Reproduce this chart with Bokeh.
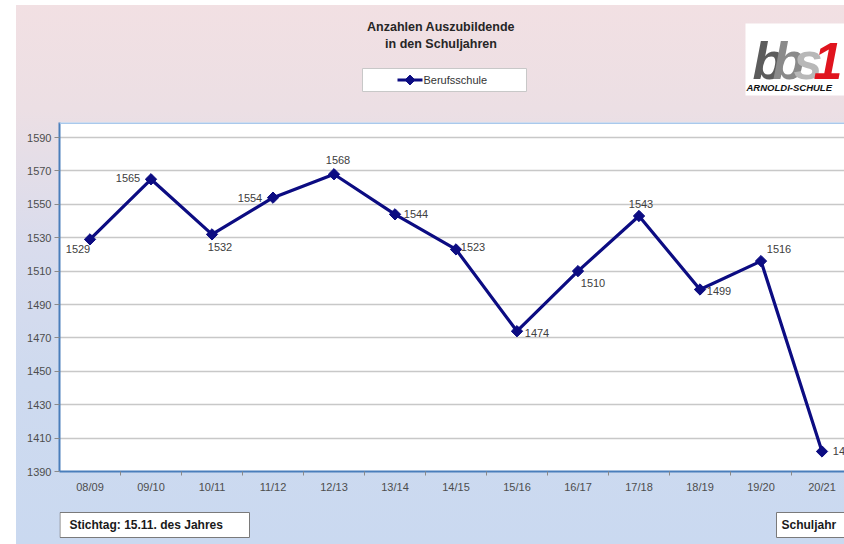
import math
from bokeh.plotting import figure
from bokeh.layouts import column
from bokeh.models import Range1d, FixedTicker, ColumnDataSource, Span
from bokeh.embed import file_html
from bokeh.resources import INLINE
from bokeh.core.properties import value

# ---- data ----
years = ["08/09", "09/10", "10/11", "11/12", "12/13", "13/14", "14/15",
         "15/16", "16/17", "17/18", "18/19", "19/20", "20/21"]
students = [1529, 1565, 1532, 1554, 1568, 1544, 1523, 1474, 1510, 1543, 1499, 1516, 1402]
y_ticks = [1390, 1410, 1430, 1450, 1470, 1490, 1510, 1530, 1550, 1570, 1590]
series_name = "Berufsschule"
title_lines = ["Anzahlen Auszubildende", "in den Schuljahren"]
note_left = "Stichtag: 15.11. des Jahres"
note_right = "Schuljahr"
logo_letters = ["b", "b", "s", "1"]
logo_sub = "ARNOLDI-SCHULE"

# ---- label placement (pixel offsets, style only) ----
lab_dx = [-12, -23, 8, -23, 4, 21, 17, 20, 15, 2, 19, 18, 23]
lab_dy = [10, -1, 13, 0, -14, 0, -2, 2, 12, -12, 2, -12, 0]

FONT = "Liberation Sans"
W = 844
LEFT = 59
H_HEAD, H_MAIN, H_FOOT = 114, 387, 43
NAVY = "#0c0c82"


def deco_figure(h, y_top):
    f = figure(width=W, height=h, output_backend="svg", toolbar_location=None,
               x_range=Range1d(LEFT, W), y_range=Range1d(y_top + h, y_top),
               x_axis_location=None, y_axis_location=None,
               min_border_left=LEFT, min_border_right=0, min_border_top=0, min_border_bottom=0)
    f.border_fill_color = None
    f.background_fill_color = None
    f.outline_line_color = None
    f.grid.visible = False
    return f


# ---------------- header ----------------
hdr = deco_figure(H_HEAD, 0)
hdr.text(x=[440.5, 440.5], y=[26, 43], text=title_lines, text_align="center", text_baseline="middle",
         text_font=value(FONT), text_font_size="12.5px", text_font_style="bold", text_color="#262626")
# legend box
hdr.quad(left=[362], right=[526], top=[68], bottom=[91], fill_color="white", line_color="#c8c8c8", line_width=1)
hdr.line(x=[397, 422], y=[79.5, 79.5], line_color=NAVY, line_width=3)
hdr.scatter(x=[409.5], y=[79.5], marker="square", angle=math.pi / 4, size=7, fill_color=NAVY, line_color=NAVY)
hdr.text(x=[423], y=[79.5], text=[series_name], text_align="left", text_baseline="middle",
         text_font=value(FONT), text_font_size="11px", text_color="#333333")
# logo
hdr.quad(left=[745], right=[W + 10], top=[23], bottom=[95], fill_color="white", line_color=None)
hdr.text(x=[752, 772, 793, 813], y=[60, 60, 60, 60], text=logo_letters,
         text_color=["#5c5c5c", "#8a8a8a", "#b8b8b8", "#e0141e"],
         text_font=value(FONT), text_font_size="52px", text_font_style="bold italic",
         text_align="left", text_baseline="alphabetic")
hdr.text(x=[746], y=[87], text=[logo_sub], text_font=value(FONT), text_font_size="9.5px",
         text_font_style="bold italic", text_color="#111111", text_align="left", text_baseline="middle")

# ---------------- main chart ----------------
xs = list(range(len(years)))
src = ColumnDataSource(dict(x=xs, y=students, txt=[str(v) for v in students], dx=lab_dx, dy=lab_dy))

p = figure(width=W, height=H_MAIN, output_backend="svg", toolbar_location=None,
           x_range=Range1d(-0.5, -0.5 + (W - LEFT) / 61.0), y_range=Range1d(1390, 1599),
           min_border_left=LEFT, min_border_right=0, min_border_top=8, min_border_bottom=30)
p.border_fill_color = None
p.background_fill_color = "white"
p.outline_line_color = None
p.add_layout(Span(location=1599, dimension="width", line_color="#a9c9ec", line_width=3))

p.xaxis.ticker = FixedTicker(ticks=xs, minor_ticks=[i + 0.5 for i in xs[:-1]])
p.xaxis.major_label_overrides = {i: y for i, y in enumerate(years)}
p.xaxis.major_tick_out = 0
p.xaxis.major_tick_in = 0
p.xaxis.minor_tick_out = 4
p.xaxis.minor_tick_in = 0
p.xaxis.minor_tick_line_color = "#8a8a8a"
p.xaxis.major_label_standoff = 5
p.yaxis.ticker = FixedTicker(ticks=y_ticks)
p.yaxis.major_tick_out = 5
p.yaxis.major_tick_in = 0
p.yaxis.minor_tick_line_color = None
p.yaxis.major_tick_line_color = "#8a8a8a"
p.yaxis.major_label_standoff = 3
for ax in (p.xaxis, p.yaxis):
    ax.axis_line_color = "#4a7ebb"
    ax.axis_line_width = 2
    ax.major_label_text_font = FONT
    ax.major_label_text_font_size = "11px"
    ax.major_label_text_color = "#4d4d4d"
p.xgrid.grid_line_color = None
p.ygrid.ticker = FixedTicker(ticks=y_ticks)
p.ygrid.grid_line_color = "#c8c8c8"
p.ygrid.grid_line_width = 1.5

p.line("x", "y", source=src, line_color=NAVY, line_width=3.2)
p.scatter("x", "y", source=src, marker="square", angle=math.pi / 4, size=8,
          fill_color=NAVY, line_color=NAVY)
p.text("x", "y", text="txt", source=src, x_offset="dx", y_offset="dy",
       text_align="center", text_baseline="middle", text_font=value(FONT),
       text_font_size="11px", text_color="#404040")

# ---------------- footer ----------------
ftr = deco_figure(H_FOOT, H_HEAD + H_MAIN)
ftr.quad(left=[59.5, 776], right=[249, W + 10], top=[512, 512], bottom=[537, 537],
         fill_color="white", line_color="#7a7a7a", line_width=1)
ftr.text(x=[69, 781], y=[524.5, 524.5], text=[note_left, note_right], text_align="left",
         text_baseline="middle", text_font=value(FONT), text_font_size="12px",
         text_font_style="bold", text_color="#1a1a1a")

layout = column(hdr, p, ftr, spacing=0)
layout.styles = {"background": "linear-gradient(to right, #ffffff 0px, #ffffff 16px, transparent 16px), "
                               "linear-gradient(to bottom, #ffffff 0px, #ffffff 5px, transparent 5px), "
                               "linear-gradient(to bottom, #f2e0e3 0%, #ecdfe4 20%, #d9dced 45%, #cedaef 70%, #cad9f0 100%)"}

open("out.html", "w").write(file_html(layout, INLINE))
